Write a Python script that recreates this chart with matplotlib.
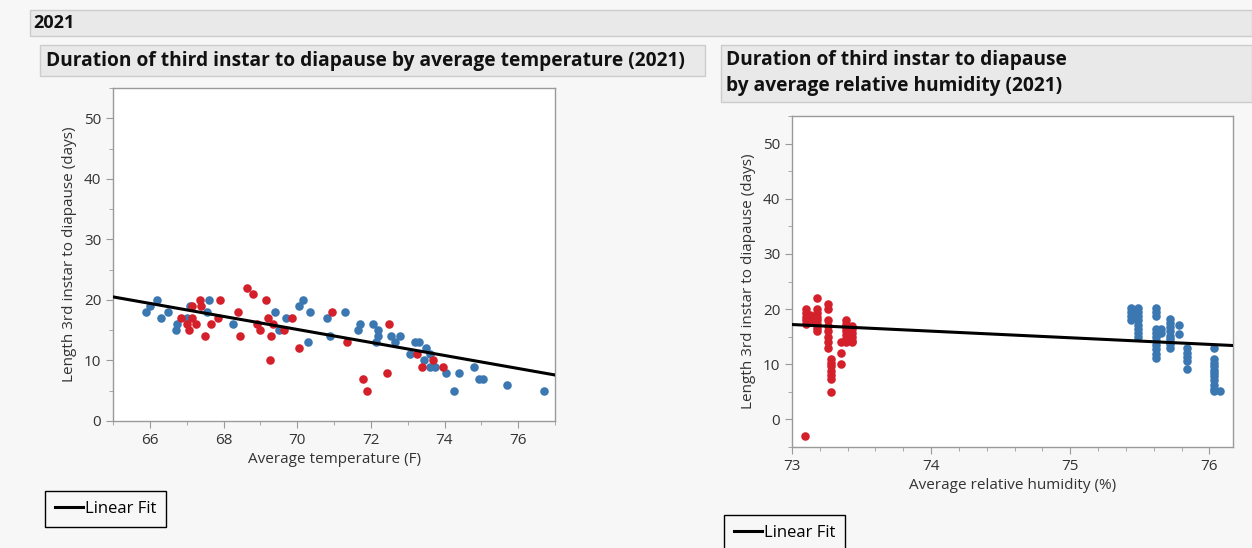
import numpy as np
import matplotlib
matplotlib.use('Agg')
import matplotlib.pyplot as plt
from matplotlib.patches import Rectangle
from matplotlib.ticker import MultipleLocator

plt.rcParams['font.family'] = ['Open Sans', 'DejaVu Sans']

# Duration (days) vs average temperature (F), two groups
temp_blue_x = [65.9, 66.0, 66.2, 66.3, 66.5, 66.7, 66.75, 67.0, 67.1, 67.55, 67.6, 68.25,
               69.4, 69.5, 69.7, 70.05, 70.15, 70.35, 70.3, 70.8, 70.9, 71.3, 71.65, 71.7,
               72.05, 72.2, 72.2, 72.15, 72.55, 72.65, 72.8, 73.05, 73.2, 73.3, 73.45, 73.5,
               73.6, 73.6, 73.75, 74.05, 74.25, 74.4, 74.8, 74.95, 75.05, 75.7, 76.7]
temp_blue_y = [18, 19, 20, 17, 18, 15, 16, 17, 19, 18, 20, 16,
               18, 15, 17, 19, 20, 18, 13, 17, 14, 18, 15, 16,
               16, 15, 14, 13, 14, 13, 14, 11, 13, 13, 10, 12,
               11, 9, 9, 8, 5, 8, 9, 7, 7, 6, 5]
temp_red_x = [66.85, 67.0, 67.05, 67.15, 67.15, 67.25, 67.35, 67.4, 67.5, 67.65, 67.85, 67.9,
              68.4, 68.45, 68.65, 68.8, 68.9, 69.0, 69.15, 69.2, 69.25, 69.3, 69.35, 69.65,
              69.85, 70.05, 70.95, 71.35, 71.8, 71.9, 72.5, 72.45, 73.25, 73.4, 73.7, 73.95]
temp_red_y = [17, 16, 15, 19, 17, 16, 20, 19, 14, 16, 17, 20,
              18, 14, 22, 21, 16, 15, 20, 17, 10, 14, 16, 15,
              17, 12, 18, 13, 7, 5, 16, 8, 11, 9, 10, 9]

# Duration (days) vs average relative humidity (%), two groups
rh_red_x = [73.10, 73.10, 73.10, 73.10, 73.10, 73.13, 73.13, 73.13,
            73.18, 73.18, 73.18, 73.18, 73.18, 73.18, 73.18, 73.18,
            73.26, 73.26, 73.26, 73.26, 73.26, 73.26, 73.26, 73.26,
            73.28, 73.28, 73.28, 73.28, 73.28, 73.28, 73.28,
            73.35, 73.35, 73.35,
            73.39, 73.39, 73.39, 73.39, 73.39, 73.39, 73.39,
            73.43, 73.43, 73.43, 73.43, 73.43, 73.43, 73.09]
rh_red_y = [20, 19.3, 18.6, 18, 17.3, 19, 18.3, 17.6,
            22, 20, 19.3, 18.6, 18, 17.3, 16.6, 16,
            21, 20, 18, 17, 16, 15, 14, 13,
            11, 10.3, 9.6, 8.8, 8.1, 7.4, 5,
            14, 12, 10,
            18, 17.3, 16.6, 16, 15.3, 14.6, 14,
            17, 16.3, 15.6, 15, 14.3, 14, -3]
rh_blue_x = [75.44, 75.44, 75.44, 75.44,
             75.49, 75.49, 75.49, 75.49, 75.49, 75.49, 75.49, 75.49,
             75.62, 75.62, 75.62, 75.62, 75.62, 75.62, 75.62, 75.62, 75.62, 75.62, 75.62,
             75.65, 75.65,
             75.72, 75.72, 75.72, 75.72, 75.72, 75.72, 75.72, 75.72,
             75.78, 75.78,
             75.84, 75.84, 75.84, 75.84, 75.84,
             76.03, 76.03, 76.03, 76.03, 76.03, 76.03, 76.03, 76.03, 76.03, 76.03, 76.03,
             76.08]
rh_blue_y = [20.2, 19.4, 18.7, 18,
             20.2, 19.4, 18.7, 18, 17.2, 16.4, 15.7, 15,
             20.2, 19.4, 18.7, 16.3, 15.7, 15, 14.2, 13.4, 12.7, 11.9, 11.2,
             16.3, 15.7,
             18.2, 17.5, 16.8, 16, 15.2, 14.5, 13.6, 13,
             17.2, 15.4,
             13, 12.1, 11.4, 10.6, 9.1,
             13, 11, 10.3, 9.7, 9, 8.4, 7.8, 7.1, 6.3, 5.6, 5.1,
             5.2]

# Linear fit coefficients (slope, intercept)
fit_temp = (-1.075, 90.375)
fit_rh = (-1.2, 104.8)

RED = '#d4202a'
BLUE = '#3b78b2'
W, H = 1252, 548
DOT = 38

fig = plt.figure(figsize=(W / 100, H / 100), dpi=100)
fig.patch.set_facecolor('#f7f7f7')


def fig_box(x0, y0, x1, y1):
    # pixel box (top-left origin) -> figure fraction rect
    return [x0 / W, 1 - y1 / H, (x1 - x0) / W, (y1 - y0) / H]


def header(x0, y0, x1, y1):
    r = fig_box(x0, y0, x1, y1)
    fig.patches.append(Rectangle((r[0], r[1]), r[2], r[3], transform=fig.transFigure,
                                 facecolor='#e9e9e9', edgecolor='#cccccc', linewidth=1))


def ptext(x, y, s, **kw):
    fig.text(x / W, 1 - y / H, s, **kw)


header(30, 10, 1252, 36)
ptext(33, 23, '2021', fontsize=13, fontweight='bold', va='center', color='#111111')
header(40, 45, 705, 76)
ptext(46, 61, 'Duration of third instar to diapause by average temperature (2021)',
      fontsize=13.8, fontweight='bold', va='center', color='#111111')
header(721, 45, 1252, 102)
ptext(726, 60, 'Duration of third instar to diapause', fontsize=13.8, fontweight='bold',
      va='center', color='#111111')
ptext(726, 86, 'by average relative humidity (2021)', fontsize=13.8, fontweight='bold',
      va='center', color='#111111')


def style_axes(ax):
    for sp in ax.spines.values():
        sp.set_color('#9a9a9a')
        sp.set_linewidth(1)
    ax.tick_params(which='major', direction='out', length=5, color='#9a9a9a',
                   labelsize=11, labelcolor='#333333')
    ax.tick_params(which='minor', direction='out', length=3, color='#9a9a9a')
    ax.tick_params(axis='both', which='both', top=False, right=False)


def fit_legend(ax, x, y):
    ax.legend(loc='upper left', bbox_to_anchor=(x / W, 1 - y / H), bbox_transform=fig.transFigure,
              fancybox=False, edgecolor='black', framealpha=1, facecolor='#f7f7f7',
              handlelength=1.7, handletextpad=0.1, fontsize=12, borderpad=0.6,
              borderaxespad=0)


# Left panel: temperature
ax1 = fig.add_axes(fig_box(113, 88, 555, 421))
ax1.scatter(temp_blue_x, temp_blue_y, s=DOT, color=BLUE, linewidths=0, zorder=2)
ax1.scatter(temp_red_x, temp_red_y, s=DOT, color=RED, linewidths=0, zorder=2)
xs = np.array([65, 77])
ax1.plot(xs, fit_temp[0] * xs + fit_temp[1], color='black', linewidth=2.2,
         label='Linear Fit', zorder=3)
ax1.set_xlim(65, 77)
ax1.set_ylim(0, 55)
ax1.xaxis.set_major_locator(MultipleLocator(2))
ax1.xaxis.set_minor_locator(MultipleLocator(1))
ax1.set_yticks([0, 10, 20, 30, 40, 50])
ax1.yaxis.set_minor_locator(MultipleLocator(5))
ax1.set_xlabel('Average temperature (F)', fontsize=11, color='#333333', labelpad=3)
ax1.set_ylabel('Length 3rd instar to diapause (days)', fontsize=11, color='#333333', labelpad=5)
style_axes(ax1)
fit_legend(ax1, 45, 491)

# Right panel: relative humidity
ax2 = fig.add_axes(fig_box(792, 116, 1233, 447))
ax2.scatter(rh_blue_x, rh_blue_y, s=DOT, color=BLUE, linewidths=0, zorder=2)
ax2.scatter(rh_red_x, rh_red_y, s=DOT, color=RED, linewidths=0, zorder=2)
xs = np.array([73, 76.17])
ax2.plot(xs, fit_rh[0] * xs + fit_rh[1], color='black', linewidth=2.2,
         label='Linear Fit', zorder=3)
ax2.set_xlim(73, 76.17)
ax2.set_ylim(-5, 55)
ax2.xaxis.set_major_locator(MultipleLocator(1))
ax2.xaxis.set_minor_locator(MultipleLocator(0.2))
ax2.set_yticks([0, 10, 20, 30, 40, 50])
ax2.yaxis.set_minor_locator(MultipleLocator(5))
ax2.set_xlabel('Average relative humidity (%)', fontsize=11, color='#333333', labelpad=3)
ax2.set_ylabel('Length 3rd instar to diapause (days)', fontsize=11, color='#333333', labelpad=5)
style_axes(ax2)
fit_legend(ax2, 724, 515)

fig.savefig('out.png', dpi=100, facecolor=fig.get_facecolor())
